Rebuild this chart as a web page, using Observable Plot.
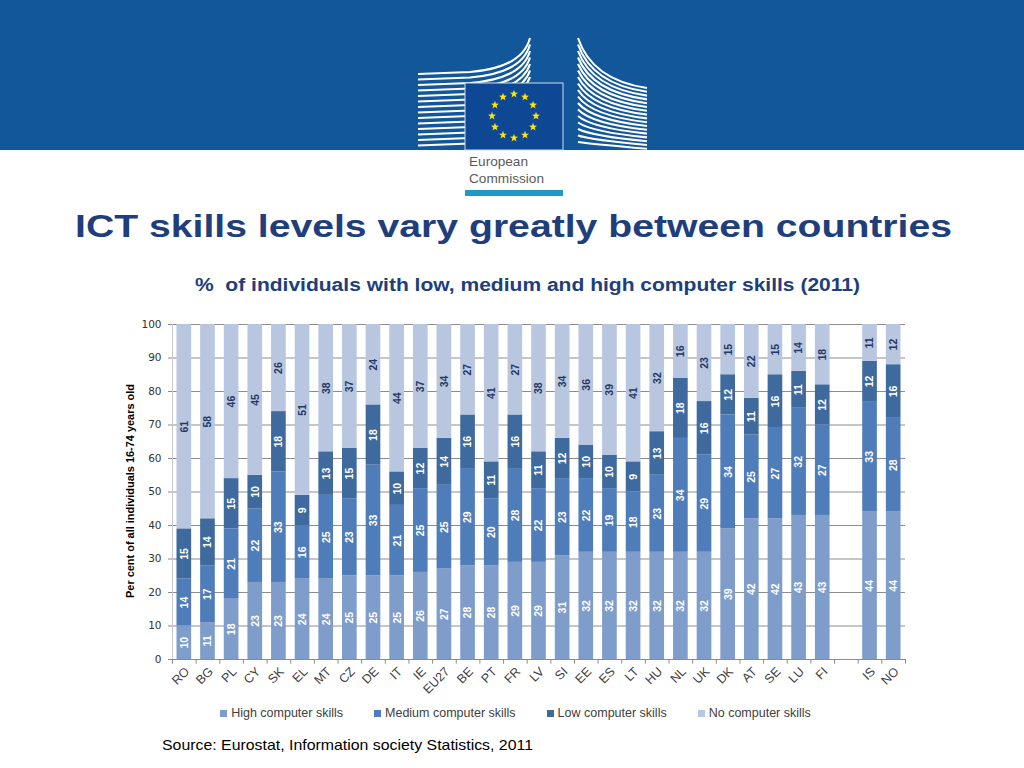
<!DOCTYPE html>
<html>
<head>
<meta charset="utf-8">
<script src="https://cdn.jsdelivr.net/npm/d3@7"></script>
<script src="https://cdn.jsdelivr.net/npm/@observablehq/plot@0.6"></script>
<style>
html, body { margin: 0; padding: 0; background: #fff; }
#page { position: relative; width: 1024px; height: 768px; overflow: hidden; font-family: "Liberation Sans", Arial, sans-serif; }
#overlay { position: absolute; left: 0; top: 0; }
#chart { position: absolute; left: 0; top: 305px; }
#legend { position: absolute; left: 0; top: 706px; width: 1031px; display: flex; justify-content: center; gap: 31px; font-size: 12.5px; color: #404040; }
#legend .item { display: flex; align-items: center; }
#legend .sw { width: 7px; height: 7px; margin-right: 4px; }
</style>
</head>
<body>
<div id="page">
  <svg id="overlay" width="1024" height="768"></svg>
  <div id="chart"></div>
  <div id="legend"></div>
</div>
<script>
// ---------- data ----------
const countries = ["RO","BG","PL","CY","SK","EL","MT","CZ","DE","IT","IE","EU27","BE","PT","FR","LV","SI","EE","ES","LT","HU","NL","UK","DK","AT","SE","LU","FI","IS","NO"];
const high   = [10,11,18,23,23,24,24,25,25,25,26,27,28,28,29,29,31,32,32,32,32,32,32,39,42,42,43,43,44,44];
const medium = [14,17,21,22,33,16,25,23,33,21,25,25,29,20,28,22,23,22,19,18,23,34,29,34,25,27,32,27,33,28];
const low    = [15,14,15,10,18, 9,13,15,18,10,12,14,16,11,16,11,12,10,10, 9,13,18,16,12,11,16,11,12,12,16];
const none   = [61,58,46,45,26,51,38,37,24,44,37,34,27,41,27,38,34,36,39,41,32,16,23,15,22,15,14,18,11,12];
const seriesNames  = ["High computer skills","Medium computer skills","Low computer skills","No computer skills"];
const seriesColors = ["#7f9dca","#4f7db9","#3f6a9d","#b9c6e0"];
const labelColors  = ["#ffffff","#ffffff","#ffffff","#1f3864"];
const yTicks = [0,10,20,30,40,50,60,70,80,90,100];
const gapAfter = "FI";
const gapKey = " ";

const titleText = "ICT skills levels vary greatly between countries";
const subtitleText = "%  of individuals with low, medium and high computer skills (2011)";
const yLabelText = "Per cent of all individuals 16-74 years old";
const sourceText = "Source: Eurostat, Information society Statistics, 2011";

// ---------- build table ----------
const seriesValues = [high, medium, low, none];
const long = [];
const cum = countries.map(() => 0);
seriesValues.forEach((vals, s) => {
  vals.forEach((v, i) => {
    long.push({country: countries[i], series: seriesNames[s], s, value: v, mid: cum[i] + v / 2});
    cum[i] += v;
  });
});
const xDomain = [];
countries.forEach(c => { xDomain.push(c); if (c === gapAfter) xDomain.push(gapKey); });

// ---------- header / decoration ----------
const ov = d3.select("#overlay");
ov.append("rect").attr("x", 0).attr("y", 0).attr("width", 1024).attr("height", 150).attr("fill", "#11579a");
const logo = ov.append("g").attr("fill", "none").attr("stroke", "#fff").attr("stroke-width", 2.1);
for (let i = 0; i < 14; i++) {
  const yl = 74 + i * 5.5, yr = 38 + i * 6.5;
  logo.append("path").attr("d", `M418,${yl} L470,${yl - 2} Q522,${yl - 6} 530,${yr}`);
}
for (let i = 0; i < 17; i++) {
  const yl = 38 + i * 6.5, yr = 88 + i * 3.8;
  logo.append("path").attr("d", `M578,${yl} Q592,${Math.max(yl, 80 + i * 4)} 647,${yr}`);
}
ov.append("rect").attr("x", 465).attr("y", 83).attr("width", 98).attr("height", 67)
  .attr("fill", "#0e4894").attr("stroke", "#cfdcec").attr("stroke-width", 1);
function starPath(cx, cy, R, r) {
  let d = "";
  for (let k = 0; k < 10; k++) {
    const a = -Math.PI / 2 + k * Math.PI / 5;
    const rr = k % 2 ? r : R;
    d += (k ? "L" : "M") + (cx + rr * Math.cos(a)).toFixed(2) + "," + (cy + rr * Math.sin(a)).toFixed(2);
  }
  return d + "Z";
}
for (let k = 0; k < 12; k++) {
  const a = k * Math.PI / 6;
  ov.append("path").attr("d", starPath(514 + 22 * Math.sin(a), 116 - 22 * Math.cos(a), 4.2, 1.7)).attr("fill", "#ffe600");
}
ov.append("text").attr("x", 469).attr("y", 166).attr("font-size", 13.5).attr("fill", "#5b5b5b")
  .attr("textLength", 59).attr("lengthAdjust", "spacingAndGlyphs").text("European");
ov.append("text").attr("x", 469).attr("y", 183).attr("font-size", 13.5).attr("fill", "#5b5b5b")
  .attr("textLength", 75).attr("lengthAdjust", "spacingAndGlyphs").text("Commission");
ov.append("rect").attr("x", 465).attr("y", 190).attr("width", 98).attr("height", 6).attr("fill", "#1e98c6");

ov.append("text").attr("x", 75).attr("y", 237).attr("font-size", 32).attr("font-weight", "bold")
  .attr("fill", "#203e7b").attr("textLength", 877).attr("lengthAdjust", "spacingAndGlyphs").text(titleText);
ov.append("text").attr("x", 195).attr("y", 291).attr("font-size", 18).attr("font-weight", "bold")
  .attr("fill", "#203e7b").style("white-space", "pre").attr("textLength", 665).attr("lengthAdjust", "spacingAndGlyphs").text(subtitleText);
ov.append("text").attr("transform", "translate(134,491) rotate(-90)").attr("text-anchor", "middle")
  .attr("font-size", 11).attr("font-weight", "bold").attr("fill", "#000")
  .attr("textLength", 214).attr("lengthAdjust", "spacingAndGlyphs").text(yLabelText);
ov.append("text").attr("x", 162).attr("y", 750).attr("font-size", 15).attr("fill", "#000")
  .attr("textLength", 371).attr("lengthAdjust", "spacingAndGlyphs").text(sourceText);

// ---------- chart ----------
const W = 1024, H = 400, ML = 172, MR = 119, MT = 19, MB = 46;
const step = (W - ML - MR) / xDomain.length;

const chart = Plot.plot({
  width: W, height: H,
  marginLeft: ML, marginRight: MR, marginTop: MT, marginBottom: MB,
  style: {fontFamily: "'Liberation Sans', Arial, sans-serif", color: "#333", background: "transparent"},
  x: {domain: xDomain, paddingInner: 0.38, paddingOuter: 0.19, round: false, axis: null},
  y: {domain: [0, 100], axis: null},
  color: {domain: seriesNames, range: seriesColors},
  marks: [
    Plot.gridY(yTicks, {stroke: "#8c8c8c", strokeOpacity: 1, strokeWidth: 1}),
    Plot.ruleX([xDomain[0]], {y1: 0, y2: 100, dx: -step / 2, stroke: "#c8c8c8"}),
    Plot.ruleX(xDomain, {y1: 0, y2: -1.4, dx: -step / 2, stroke: "#8c8c8c"}),
    Plot.ruleX([xDomain[xDomain.length - 1]], {y1: 0, y2: -1.4, dx: step / 2, stroke: "#8c8c8c"}),
    Plot.barY(long, {x: "country", y: "value", fill: "series", z: "series"}),
    ...seriesNames.map((name, s) =>
      Plot.text(long.filter(d => d.s === s), {
        x: "country", y: "mid", text: d => String(d.value), rotate: -90,
        fill: labelColors[s], fontWeight: "bold", fontSize: 10.5,
        fontFamily: "'Liberation Sans', Arial, sans-serif"
      })
    ),
    Plot.axisY(yTicks, {tickSize: 4, tickPadding: 7, fontSize: 10.5, fontFamily: "'DejaVu Sans', Verdana, sans-serif", label: null, stroke: "#8c8c8c"}),
    Plot.text(countries, {x: d => d, y: () => 0, text: d => d, rotate: () => -45, textAnchor: "end",
      dx: 3, dy: 10, fontSize: 12.5, fill: "#404040"})
  ]
});
document.getElementById("chart").appendChild(chart);

// ---------- legend ----------
const lg = d3.select("#legend");
seriesNames.forEach((name, s) => {
  const it = lg.append("div").attr("class", "item");
  it.append("div").attr("class", "sw").style("background", seriesColors[s]);
  it.append("span").text(name);
});
</script>
</body>
</html>
